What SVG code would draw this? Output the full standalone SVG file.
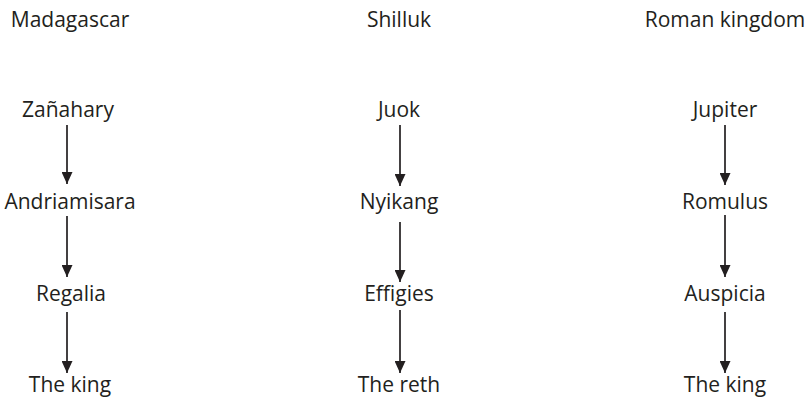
<svg xmlns="http://www.w3.org/2000/svg" width="808" height="400" viewBox="0 0 808 400">
<style>
text{font-family:"Open Sans","Noto Sans",sans-serif;font-size:21px;fill:#231f20;text-anchor:middle}
.c line{stroke:#231f20;stroke-width:1.7}
</style>
<defs>
<marker id="ah" viewBox="0 0 12 11" refX="12" refY="5.5" markerWidth="12" markerHeight="11" markerUnits="userSpaceOnUse" orient="auto">
<path d="M0,0L12,5.5L0,11Z" fill="#231f20"/>
</marker>
</defs>
<rect width="808" height="400" fill="#fff"/>
<g id="title-madagascar"><text x="70" y="27">Madagascar</text></g>
<g id="title-shilluk"><text x="399" y="27">Shilluk</text></g>
<g id="title-roman"><text x="725" y="27">Roman kingdom</text></g>
<g id="zanahary"><text x="68" y="117">Zañahary</text></g>
<g id="andriamisara"><text x="70" y="209">Andriamisara</text></g>
<g id="regalia"><text x="71" y="301">Regalia</text></g>
<g id="theking1"><text x="70" y="392">The king</text></g>
<g id="juok"><text x="399" y="117">Juok</text></g>
<g id="nyikang"><text x="399" y="209">Nyikang</text></g>
<g id="effigies"><text x="399" y="301">Effigies</text></g>
<g id="thereth"><text x="399" y="392">The reth</text></g>
<g id="jupiter"><text x="725" y="117">Jupiter</text></g>
<g id="romulus"><text x="725" y="209">Romulus</text></g>
<g id="auspicia"><text x="725" y="301">Auspicia</text></g>
<g id="theking2"><text x="725" y="392">The king</text></g>
<g class="c" id="connectors">
<line x1="67" y1="125" x2="67" y2="184" marker-end="url(#ah)"/>
<line x1="67" y1="216" x2="67" y2="277" marker-end="url(#ah)"/>
<line x1="67" y1="312" x2="67" y2="373" marker-end="url(#ah)"/>
<line x1="400" y1="125" x2="400" y2="186" marker-end="url(#ah)"/>
<line x1="400" y1="222" x2="400" y2="282" marker-end="url(#ah)"/>
<line x1="400" y1="310" x2="400" y2="373" marker-end="url(#ah)"/>
<line x1="725" y1="125" x2="725" y2="185" marker-end="url(#ah)"/>
<line x1="725" y1="215" x2="725" y2="277" marker-end="url(#ah)"/>
<line x1="725" y1="312" x2="725" y2="373" marker-end="url(#ah)"/>
</g>
</svg>
